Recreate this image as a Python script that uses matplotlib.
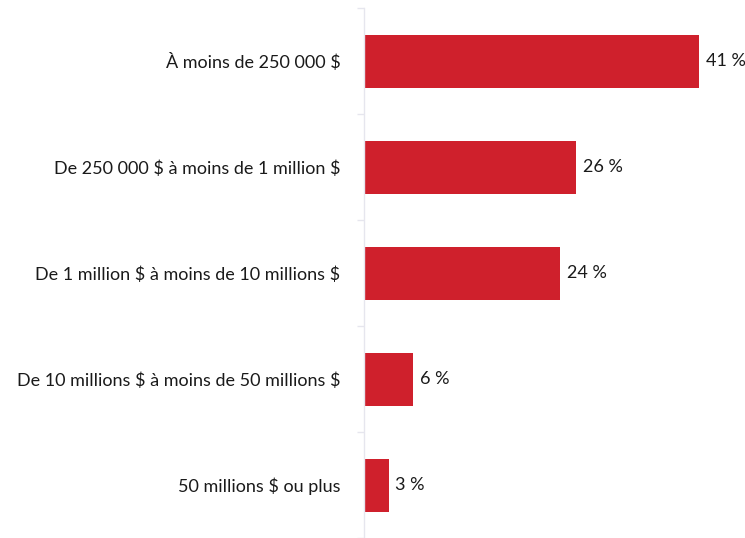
import matplotlib.pyplot as plt
import numpy as np

categories = [
    "À moins de 250 000 $",
    "De 250 000 $ à moins de 1 million $",
    "De 1 million $ à moins de 10 millions $",
    "De 10 millions $ à moins de 50 millions $",
    "50 millions $ ou plus",
]
values = [41, 26, 24, 6, 3]

plt.rcParams['font.family'] = ['Lato', 'DejaVu Sans']
plt.rcParams['text.parse_math'] = False

W, H = 745, 538
fig = plt.figure(figsize=(W / 100, H / 100), dpi=100)
ax = fig.add_axes([364 / W, 0, (W - 364) / W, 530 / H])

y = np.arange(len(categories))
ax.barh(y, values, height=0.5, color='#CF202C')

for yi, v in zip(y, values):
    ax.text(v + 0.85, yi, f"{v} %", va='center', ha='left',
            fontsize=13, color='#1a1a1a')

ax.set_xlim(0, 381 / 8.17)
ax.set_ylim(len(categories) - 0.5, -0.5)

# category labels sit between the separator ticks
ax.set_yticks(y)
ax.set_yticklabels(categories, fontsize=13.0, color='#1a1a1a')
ax.tick_params(axis='y', which='major', length=0, pad=17)
ax.set_yticks(np.arange(-0.5, len(categories) + 0.5, 1), minor=True)
ax.tick_params(axis='y', which='minor', length=5, width=1, color='#e6e6ee')

ax.set_xticks([])
for side in ['top', 'right', 'bottom']:
    ax.spines[side].set_visible(False)
ax.spines['left'].set_color('#e6e6ee')
ax.spines['left'].set_linewidth(1)

fig.savefig('out.png', dpi=100)
